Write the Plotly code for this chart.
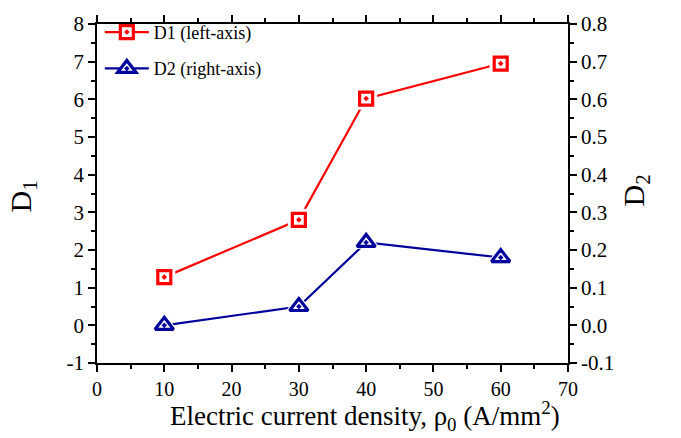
import plotly.graph_objects as go

# Electric current density (A/mm^2)
current_density = [10, 30, 40, 60]
# D1 (left axis) and D2 (right axis)
d1_values = [1.28, 2.80, 6.02, 6.95]
d2_values = [0.00, 0.05, 0.22, 0.18]

y1_ticks = [-1, 0, 1, 2, 3, 4, 5, 6, 7, 8]
y1_ticktext = ["-1", "0", "1", "2", "3", "4", "5", "6", "7", "8"]
y2_ticks = [-0.1, 0.0, 0.1, 0.2, 0.3, 0.4, 0.5, 0.6, 0.7, 0.8]
y2_ticktext = ["-0.1", "0.0", "0.1", "0.2", "0.3", "0.4", "0.5", "0.6", "0.7", "0.8"]

RED = "#FF0000"
NAVY = "#00009C"
FONT = "Liberation Serif, Times New Roman, serif"

fig = go.Figure()


def add_series(x, y, name, color, symbol, size, yaxis, group):
    # connecting line + marker (this one carries the legend entry)
    fig.add_trace(go.Scatter(
        x=x, y=y, name=name, mode="lines+markers", yaxis=yaxis,
        legendgroup=group,
        line=dict(color=color, width=2.2),
        marker=dict(symbol=symbol + "-dot", size=size, color="white",
                    line=dict(color=color, width=3.2)),
    ))
    # white halo that leaves a small gap between line and symbol
    fig.add_trace(go.Scatter(
        x=x, y=y, mode="markers", yaxis=yaxis, showlegend=False,
        legendgroup=group, hoverinfo="skip",
        marker=dict(symbol=symbol, size=size + 9, color="white",
                    line=dict(width=0)),
    ))
    # symbol on top
    fig.add_trace(go.Scatter(
        x=x, y=y, mode="markers", yaxis=yaxis, showlegend=False,
        legendgroup=group, hoverinfo="skip",
        marker=dict(symbol=symbol + "-dot", size=size, color="white",
                    line=dict(color=color, width=3.2)),
    ))


add_series(current_density, d1_values, "D1 (left-axis)", RED, "square", 13, "y", "d1")
add_series(current_density, d2_values, "D2 (right-axis)", NAVY, "triangle-up", 16, "y2", "d2")

axis_common = dict(
    showline=True, linecolor="black", linewidth=1.5,
    ticks="outside", ticklen=7, tickwidth=1.5, tickcolor="black",
    showgrid=False, zeroline=False,
)

fig.update_layout(
    width=681, height=438,
    margin=dict(l=97, r=113, t=15, b=75),
    paper_bgcolor="white", plot_bgcolor="white",
    font=dict(family=FONT, color="black"),
    showlegend=True,
    legend=dict(
        x=0.006, y=1.03, xanchor="left", yanchor="top",
        bgcolor="rgba(0,0,0,0)", borderwidth=0,
        font=dict(family=FONT, size=18, color="black"),
        tracegroupgap=10, itemwidth=44,
    ),
    xaxis=dict(
        range=[0, 70], dtick=10, tick0=0, mirror="ticks",
        tickfont=dict(family=FONT, size=20, color="black"),
        minor=dict(dtick=5, ticklen=4, tickwidth=1.5, tickcolor="black", ticks="outside"),
        **axis_common,
    ),
    yaxis=dict(
        range=[-1, 8], tickvals=y1_ticks, ticktext=y1_ticktext,
        tickfont=dict(family=FONT, size=21, color="black"),
        minor=dict(dtick=0.5, ticklen=4, tickwidth=1.5, tickcolor="black", ticks="outside"),
        **axis_common,
    ),
    yaxis2=dict(
        range=[-0.1, 0.8], tickvals=y2_ticks, ticktext=y2_ticktext,
        overlaying="y", side="right",
        tickfont=dict(family=FONT, size=21, color="black"),
        minor=dict(dtick=0.05, ticklen=4, tickwidth=1.5, tickcolor="black", ticks="outside"),
        **axis_common,
    ),
    annotations=[
        dict(text="Electric current density, \u03c1<sub>0</sub> (A/mm<sup>2</sup>)",
             xref="paper", yref="paper", x=0.569, y=-0.217,
             xanchor="center", yanchor="bottom", showarrow=False,
             font=dict(family=FONT, size=27, color="black")),
        dict(text="D<sub>1</sub>", xref="paper", yref="paper",
             x=-0.158, y=0.49, xanchor="center", yanchor="middle",
             textangle=-90, showarrow=False,
             font=dict(family=FONT, size=30, color="black")),
        dict(text="D<sub>2</sub>", xref="paper", yref="paper",
             x=1.145, y=0.51, xanchor="center", yanchor="middle",
             textangle=-90, showarrow=False,
             font=dict(family=FONT, size=30, color="black")),
    ],
)

fig.write_html("out.html")
